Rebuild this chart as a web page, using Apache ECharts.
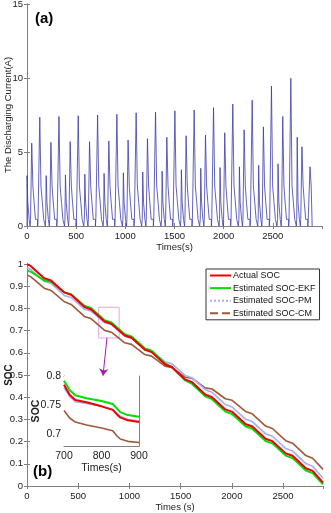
<!DOCTYPE html>
<html><head><meta charset="utf-8">
<script src="https://cdn.jsdelivr.net/npm/echarts@6.0.0/dist/echarts.min.js"></script>
<style>html,body{margin:0;padding:0;background:#fff}#chart{width:331px;height:513px}</style>
</head><body><div id="chart"></div>
<script>
// ---- (a) discharge current: one pulse group per cycle ----
const pulseTimes = [130, 325, 521, 718, 914, 1110, 1307, 1504, 1700, 1897, 2093, 2290, 2486, 2683, 2878];
const lowPulse  = [3.4, 3.4, 3.45, 3.5, 3.55, 3.6, 3.65, 3.7, 3.8, 3.9, 3.95, 4.0, 4.1, 4.2, 6.0];
const midPulse  = [5.6, 5.65, 5.7, 5.7, 5.75, 5.8, 5.9, 6.0, 6.1, 6.15, 6.3, 6.5, 6.7, 7.4, 5.36];
const highPulse = [7.35, 7.4, 7.45, 7.5, 7.55, 7.65, 7.7, 7.78, 7.84, 8.0, 8.24, 8.5, 9.46, 9.98, 4.0];
const stepLevels = { hi: 2.7, md: 1.6, base: 0.45, off: 0 };
// seconds from the main pulse, level held at that instant
const cycleShape = [
  [-135,'base'],[-130,'base'],[-130,'low'],[-122,'md'],[-108,'md'],[-108,'base'],
  [-98,'base'],[-98,'off'],[-94,'off'],[-94,'base'],[-82,'base'],[-82,'mid'],
  [-70,'hi'],[-58,'hi'],[-58,'md'],[-44,'md'],[-44,'base'],[-22,'base'],[-22,'off'],
  [-18,'off'],[-18,'base'],[0,'base'],[0,'high'],[12,'hi'],[26,'hi'],[26,'md'],
  [40,'md'],[40,'base'],[56,'base'],[56,'off'],[61,'off']
];
const profileEnd = 2900;

// ---- (b) state of charge ----
const socTimes = [0, 38, 168, 234.5, 364.5, 431, 561, 627.5, 757.5, 824, 954, 1020.5, 1150.5, 1217, 1347, 1413.5,
  1543.5, 1610, 1740, 1806.5, 1936.5, 2003, 2133, 2199.5, 2329.5, 2396, 2526, 2592.5, 2722.5, 2789, 2890];
const socActual = [1.000, 0.990, 0.936, 0.926, 0.872, 0.861, 0.806, 0.795, 0.741, 0.731, 0.678, 0.668, 0.614, 0.603, 0.548, 0.536,
  0.480, 0.468, 0.412, 0.400, 0.345, 0.334, 0.279, 0.268, 0.213, 0.202, 0.147, 0.136, 0.080, 0.068, 0.015];
const socEKF = [0.970, 0.965, 0.926, 0.920, 0.872, 0.864, 0.812, 0.801, 0.747, 0.737, 0.684, 0.674, 0.620, 0.609, 0.552, 0.536,
  0.476, 0.461, 0.404, 0.391, 0.335, 0.324, 0.269, 0.258, 0.203, 0.192, 0.137, 0.126, 0.070, 0.058, 0.007];
const socPM = [0.983, 0.975, 0.922, 0.913, 0.858, 0.849, 0.796, 0.787, 0.736, 0.727, 0.675, 0.666, 0.617, 0.609, 0.560, 0.551,
  0.498, 0.488, 0.434, 0.422, 0.367, 0.356, 0.301, 0.290, 0.235, 0.224, 0.169, 0.158, 0.101, 0.089, 0.035];
const socCM = [0.950, 0.942, 0.891, 0.881, 0.830, 0.818, 0.764, 0.753, 0.701, 0.693, 0.645, 0.638, 0.592, 0.585, 0.540, 0.534,
  0.490, 0.486, 0.442, 0.437, 0.393, 0.386, 0.336, 0.325, 0.270, 0.259, 0.204, 0.193, 0.137, 0.125, 0.075];

// ---- detail window 700-900 s ----
const zoomTimes  = [700, 705, 715, 730, 760, 800, 830, 840, 850, 870, 900];
const zoomActual = [0.785, 0.782, 0.768, 0.759, 0.755, 0.748, 0.742, 0.735, 0.729, 0.724, 0.721];
const zoomEKF    = [0.792, 0.789, 0.776, 0.767, 0.762, 0.757, 0.752, 0.745, 0.738, 0.733, 0.730];
const zoomPM     = [0.780, 0.777, 0.765, 0.756, 0.753, 0.748, 0.743, 0.737, 0.731, 0.726, 0.723];
const zoomCM     = [0.741, 0.738, 0.728, 0.721, 0.716, 0.711, 0.706, 0.698, 0.692, 0.688, 0.686];
const zoomBox = { t: [700, 900], soc: [0.667, 0.805] };
const zoomTickValues = [0.7, 0.75, 0.8];

const seriesNames = ['Actual SOC', 'Estimated SOC-EKF', 'Estimated SOC-PM', 'Estimated SOC-CM'];

// build the stepped current trace
const current = [[0, 0]];
pulseTimes.forEach((T, k) => {
  cycleShape.forEach(([dt, key]) => {
    const t = T + dt;
    if (t < 0 || t > profileEnd) return;
    let v;
    if (key === 'low') v = lowPulse[k];
    else if (key === 'mid') v = midPulse[k];
    else if (key === 'high') v = highPulse[k];
    else v = stepLevels[key];
    current.push([t, v]);
  });
});
current.push([profileEnd, current[current.length - 1][1]]);
current.push([profileEnd, 0]);

const pair = (ts, vs) => ts.map((t, i) => [t, vs[i]]);

const font = "'Liberation Sans',Arial,sans-serif";
const axisColor = '#808080';
const plain = v => String(+v.toFixed(4));
const labelStyle = { color: '#1a1a1a', fontSize: 9.5, fontFamily: font, formatter: plain };

function xPair(grid, min, max, interval, extra) {
  const base = {
    gridIndex: grid, type: 'value', min, max, interval,
    axisLine: { lineStyle: { color: axisColor, width: 1 } },
    axisTick: { inside: true, length: 3, lineStyle: { color: axisColor } },
    splitLine: { show: false }
  };
  return [
    Object.assign({}, base, { position: 'bottom', nameMoveOverlap: false,
      axisLabel: Object.assign({ margin: 5, showMaxLabel: false }, labelStyle) }, extra || {}),
    Object.assign({}, base, { position: 'top', axisLabel: { show: false } })
  ];
}
function yPair(grid, min, max, interval, extra) {
  const base = {
    gridIndex: grid, type: 'value', min, max, interval,
    axisLine: { show: true, lineStyle: { color: axisColor, width: 1 } },
    axisTick: { show: true, inside: true, length: 3, lineStyle: { color: axisColor } },
    splitLine: { show: false }
  };
  return [
    Object.assign({}, base, { position: 'left', nameMoveOverlap: false,
      axisLabel: Object.assign({ margin: 4 }, labelStyle) }, extra || {}),
    Object.assign({}, base, { position: 'right', axisLabel: { show: false } })
  ];
}

const nameStyle = { color: '#1a1a1a', fontSize: 9.5, fontFamily: font };

const xa = xPair(0, 0, 3000, 500, { name: 'Times(s)', nameLocation: 'middle', nameGap: 16, nameTextStyle: nameStyle });
const xb = xPair(1, 0, 2890, 500, { name: 'Times (s)', nameLocation: 'middle', nameGap: 16, nameTextStyle: nameStyle });
const xc = xPair(2, 700, 900, 100, { name: 'Times(s)', nameLocation: 'middle', nameGap: 17, nameTextStyle: Object.assign({}, nameStyle, { fontSize: 10.5 }),
  axisLabel: Object.assign({ margin: 5 }, labelStyle, { fontSize: 10.5 }) });
const ya = yPair(0, 0, 15, 5, { name: 'The Discharging Current(A)', nameLocation: 'middle', nameGap: 14, nameTextStyle: nameStyle });
const yb = yPair(1, 0, 1, 0.1, { name: 'SOC', nameLocation: 'middle', nameGap: 13, nameTextStyle: Object.assign({}, nameStyle, { fontSize: 10, fontWeight: 'bold' }) });
const zoomTick = { show: true, inside: true, length: 3, customValues: zoomTickValues, lineStyle: { color: axisColor } };
const yc = yPair(2, 0.68, 0.8, 0.05, { name: 'SOC', nameLocation: 'middle', nameGap: 22,
  nameTextStyle: Object.assign({}, nameStyle, { fontSize: 10.5, fontWeight: 'bold' }),
  axisLabel: Object.assign({ margin: 3, customValues: zoomTickValues }, labelStyle, { fontSize: 10.5 }),
  axisTick: zoomTick });
yc[1].axisTick = zoomTick;

const colors = { actual: '#f00000', ekf: '#00e000', pm: '#a9acf5', cm: '#a0583a' };

function socSeries(name, xi, data, color, width, z, extra) {
  return Object.assign({
    name, type: 'line', xAxisIndex: xi, yAxisIndex: xi, data, symbol: 'none', z,
    lineStyle: { color, width }, itemStyle: { color }, silent: true
  }, extra || {});
}

const gridBase = { outerBoundsMode: 'none', containLabel: false };

const option = {
  animation: false,
  backgroundColor: '#fff',
  grid: [
    Object.assign({ left: 27, top: 4, width: 295, height: 222 }, gridBase),
    Object.assign({ left: 27, top: 264, width: 296, height: 222 }, gridBase),
    Object.assign({ left: 64, top: 376, width: 75, height: 70, show: true, backgroundColor: '#fff', borderWidth: 0, z: 5 }, gridBase)
  ],
  xAxis: [xa[0], xa[1], xb[0], xb[1], xc[0], xc[1]],
  yAxis: [ya[0], ya[1], yb[0], yb[1], yc[0], yc[1]],
  legend: {
    data: [
      { name: seriesNames[0] },
      { name: seriesNames[1] },
      { name: seriesNames[2], lineStyle: { type: 'dotted' } },
      { name: seriesNames[3], lineStyle: { type: 'dashed' } }
    ],
    left: 206, top: 269, orient: 'vertical',
    padding: [2, 4, 2, 3], itemGap: 3.6, itemWidth: 21, itemHeight: 10,
    itemStyle: { opacity: 0, borderWidth: 0 },
    borderColor: '#333', borderWidth: 1, backgroundColor: '#fff',
    textStyle: { fontSize: 9, fontFamily: font, color: '#111', padding: [0, 0, 0, -3] },
    selectedMode: false, z: 10
  },
  graphic: [
    { type: 'text', left: 35, top: 11, style: { text: '(a)', font: 'bold 15px Liberation Sans, Arial', fill: '#000' } },
    { type: 'text', left: 33, top: 464, style: { text: '(b)', font: 'bold 15px Liberation Sans, Arial', fill: '#000' } }
  ],
  series: [
    {
      type: 'line', xAxisIndex: 0, yAxisIndex: 0, data: current, symbol: 'none', silent: true,
      lineStyle: { color: '#3b3bab', width: 0.8 }
    },
    socSeries(seriesNames[3], 2, pair(socTimes, socCM), colors.cm, 1.6, 2, {
      markArea: {
        silent: true,
        itemStyle: { color: 'rgba(0,0,0,0)', borderColor: '#e9a3ea', borderWidth: 1 },
        data: [[{ coord: [zoomBox.t[0], zoomBox.soc[1]] }, { coord: [zoomBox.t[1], zoomBox.soc[0]] }]]
      },
      markLine: {
        silent: true, symbol: ['none', 'arrow'], symbolSize: 7,
        lineStyle: { color: '#a51fb0', width: 1, type: 'solid' }, label: { show: false },
        data: [[{ coord: [781, zoomBox.soc[0]] }, { coord: [742, 0.497] }]]
      }
    }),
    socSeries(seriesNames[2], 2, pair(socTimes, socPM), colors.pm, 1.6, 3),
    socSeries(seriesNames[1], 2, pair(socTimes, socEKF), colors.ekf, 2, 4),
    socSeries(seriesNames[0], 2, pair(socTimes, socActual), colors.actual, 2, 5),
    socSeries(seriesNames[3], 4, pair(zoomTimes, zoomCM), colors.cm, 1.6, 6),
    socSeries(seriesNames[2], 4, pair(zoomTimes, zoomPM), colors.pm, 1.6, 6),
    socSeries(seriesNames[1], 4, pair(zoomTimes, zoomEKF), colors.ekf, 2, 6),
    socSeries(seriesNames[0], 4, pair(zoomTimes, zoomActual), colors.actual, 2, 6)
  ]
};

const chart = echarts.init(document.getElementById('chart'), null, { renderer: 'canvas' });
chart.setOption(option);
</script>
</body></html>
